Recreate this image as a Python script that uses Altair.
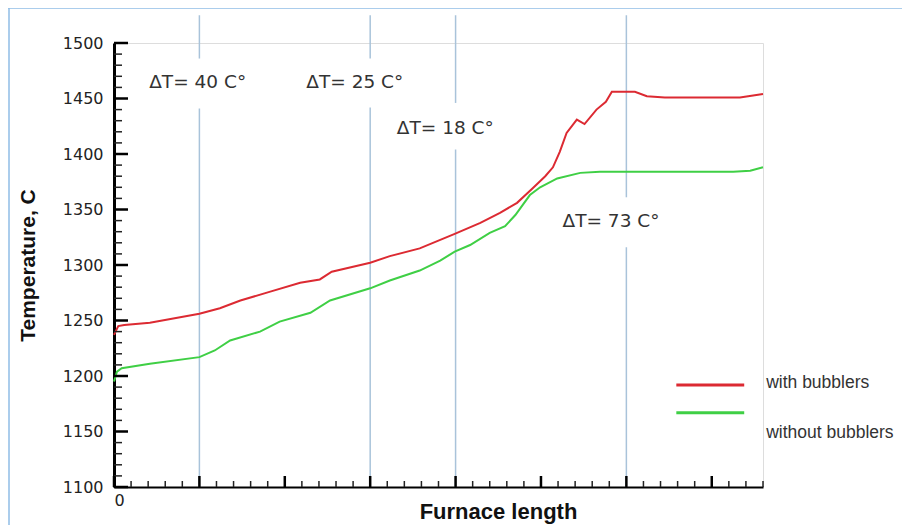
import altair as alt
import pandas as pd

# ---- data ----
red_x = [0, 0.05, 0.12, 0.42, 1.0, 1.24, 1.48, 1.83, 2.18, 2.41, 2.55, 3.0, 3.23, 3.58, 3.99,
         4.29, 4.52, 4.72, 4.9, 5.05, 5.14, 5.22, 5.3, 5.42, 5.51, 5.65, 5.76, 5.83, 6.1, 6.24,
         6.45, 7.33, 7.6]
red_y = [1237, 1245, 1246, 1248, 1256, 1261, 1268, 1276, 1284, 1287, 1294, 1302, 1308, 1315, 1328,
         1338, 1347, 1356, 1369, 1380, 1388, 1402, 1419, 1431, 1427, 1440, 1447, 1456, 1456, 1452,
         1451, 1451, 1454]
green_x = [0, 0.035, 0.09, 0.42, 1.0, 1.18, 1.36, 1.71, 1.94, 2.3, 2.53, 3.0, 3.23, 3.58, 3.82,
           3.99, 4.17, 4.4, 4.58, 4.7, 4.87, 4.99, 5.19, 5.46, 5.69, 7.25, 7.45, 7.6]
green_y = [1195, 1204, 1207, 1211, 1217, 1223, 1232, 1240, 1249, 1257, 1268, 1279, 1286, 1295, 1304,
           1312, 1318, 1329, 1335, 1345, 1363, 1370, 1378, 1383, 1384, 1384, 1385, 1388]

series_names = ["with bubblers", "without bubblers"]
series_colors = ["#dc2a32", "#3fcf45"]

# vertical marker lines, drawn in segments leaving room for labels
vline_x = [1, 1, 3, 3, 4, 4, 6, 6]
vline_y1 = [1525, 1441, 1525, 1442, 1525, 1404, 1525, 1316]
vline_y2 = [1486, 1100, 1486, 1100, 1446, 1100, 1361, 1100]

dt_labels = ["ΔT= 40 C°", "ΔT= 25 C°", "ΔT= 18 C°", "ΔT= 73 C°"]
dt_x = [0.98, 2.82, 3.88, 5.82]
dt_y = [1465, 1465, 1423, 1340]

legend_x1 = [6.585, 6.585]
legend_x2 = [7.38, 7.38]
legend_line_y = [1192, 1167]
legend_text_x = [7.637, 7.637]
legend_text_y = [1194, 1149]

y_major = list(range(1100, 1501, 50))
y_minor = [v for v in range(1100, 1501, 10) if v % 50 != 0]
x_major = [0, 1, 2, 3, 4, 5, 6, 7]
x_minor = [round(i * 0.2, 2) for i in range(0, 39) if i % 5 != 0]

X_MAX = 7.6
xs = alt.Scale(domain=[0, X_MAX], nice=False, zero=False)
ys = alt.Scale(domain=[1100, 1500], nice=False, zero=False)
cs = alt.Scale(domain=series_names, range=series_colors)

df_lines = pd.DataFrame(
    {"x": red_x + green_x,
     "y": red_y + green_y,
     "s": [series_names[0]] * len(red_x) + [series_names[1]] * len(green_x),
     "o": list(range(len(red_x))) + list(range(len(green_x)))}
)

lines = alt.Chart(df_lines).mark_line(strokeWidth=2).encode(
    x=alt.X("x:Q", scale=xs,
            axis=alt.Axis(values=[0], format="d", ticks=False, grid=False, domainColor="black",
                          domainWidth=2, labelFont="DejaVu Sans", labelFontSize=16,
                          labelColor="#222", labelPadding=5, title="Furnace length",
                          titleFont="Liberation Sans", titleFontSize=22, titleFontWeight="bold",
                          titleColor="#111", titleX=384, titleY=31, titleBaseline="alphabetic",
                          titleAlign="center")),
    y=alt.Y("y:Q", scale=ys,
            axis=alt.Axis(values=y_major, format="d", ticks=False, grid=False, domainColor="black",
                          domainWidth=3, labelFont="DejaVu Sans", labelFontSize=16,
                          labelColor="#222", labelPadding=11, title="Temperature, C",
                          titleFont="Liberation Sans", titleFontSize=21, titleFontWeight="bold",
                          titleColor="#111", titleX=-86, titleY=222, titleAngle=-90,
                          titleAlign="center", titleBaseline="middle")),
    color=alt.Color("s:N", scale=cs, legend=None),
    order="o:Q",
)

df_v = pd.DataFrame({"x": vline_x, "y": vline_y1, "y2": vline_y2})
vlines = alt.Chart(df_v).mark_rule(color="#a9c3da", strokeWidth=1.5).encode(
    x=alt.X("x:Q", scale=xs), y=alt.Y("y:Q", scale=ys), y2="y2:Q"
)

df_dt = pd.DataFrame({"x": dt_x, "y": dt_y, "t": dt_labels})
dts = alt.Chart(df_dt).mark_text(font="DejaVu Sans", fontSize=18.5, color="#333",
                                 align="center", baseline="middle").encode(
    x=alt.X("x:Q", scale=xs), y=alt.Y("y:Q", scale=ys), text="t:N"
)

df_leg = pd.DataFrame({"x": legend_x1, "x2": legend_x2, "y": legend_line_y, "s": series_names})
leg_lines = alt.Chart(df_leg).mark_rule(strokeWidth=3).encode(
    x=alt.X("x:Q", scale=xs), x2="x2:Q", y=alt.Y("y:Q", scale=ys),
    color=alt.Color("s:N", scale=cs, legend=None)
)
df_legt = pd.DataFrame({"x": legend_text_x, "y": legend_text_y, "t": series_names})
leg_text = alt.Chart(df_legt).mark_text(font="Liberation Sans", fontSize=17.5, color="#333",
                                        align="left", baseline="middle").encode(
    x=alt.X("x:Q", scale=xs), y=alt.Y("y:Q", scale=ys), text="t:N"
)

# axis ticks pointing inward
df_ymaj = pd.DataFrame({"v": y_major, "z": [0] * len(y_major)})
df_ymin = pd.DataFrame({"v": y_minor, "z": [0] * len(y_minor)})
df_xmaj = pd.DataFrame({"v": x_major, "z": [1100] * len(x_major)})
df_xmin = pd.DataFrame({"v": x_minor, "z": [1100] * len(x_minor)})

ymaj = alt.Chart(df_ymaj).mark_rule(color="black", strokeWidth=2.5, x2Offset=14).encode(
    y=alt.Y("v:Q", scale=ys), x=alt.X("z:Q", scale=xs), x2="z:Q")
ymin = alt.Chart(df_ymin).mark_rule(color="#222", strokeWidth=1.5, x2Offset=8).encode(
    y=alt.Y("v:Q", scale=ys), x=alt.X("z:Q", scale=xs), x2="z:Q")
xmaj = alt.Chart(df_xmaj).mark_rule(color="black", strokeWidth=2.5, y2Offset=-11).encode(
    x=alt.X("v:Q", scale=xs), y=alt.Y("z:Q", scale=ys), y2="z:Q")
xmin = alt.Chart(df_xmin).mark_rule(color="#222", strokeWidth=1.5, y2Offset=-6).encode(
    x=alt.X("v:Q", scale=xs), y=alt.Y("z:Q", scale=ys), y2="z:Q")

# thin frame of the original image (top and left edges)
frame_top = alt.Chart(pd.DataFrame({"a": [0]})).mark_rule(color="#8fbde6", strokeWidth=1.5).encode(
    x=alt.value(-106), x2=alt.value(800), y=alt.value(-35))
frame_left = alt.Chart(pd.DataFrame({"a": [0]})).mark_rule(color="#8fbde6", strokeWidth=1.5).encode(
    x=alt.value(-105), y=alt.value(-35), y2=alt.value(500))

chart = alt.layer(
    frame_top, frame_left, vlines, lines, dts, leg_lines, leg_text, ymaj, ymin, xmaj, xmin
).properties(
    width=649, height=444,
    autosize=alt.AutoSizeParams(type="none"),
    padding={"left": 106, "top": 35, "right": 139, "bottom": 38},
).configure_view(stroke=None).configure(background="white")

chart.save("out.html", embed_options={"renderer": "svg", "actions": False})
